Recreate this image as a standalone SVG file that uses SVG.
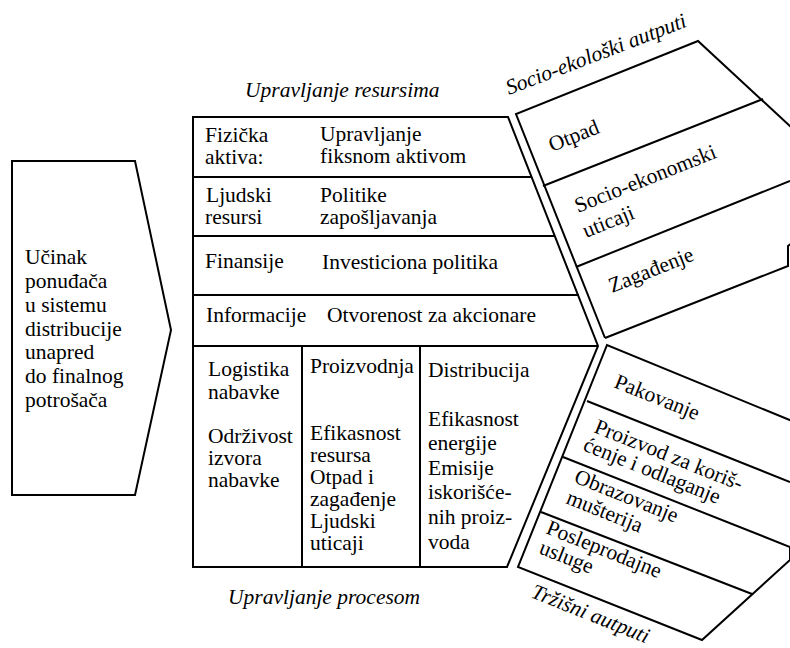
<svg xmlns="http://www.w3.org/2000/svg" width="790" height="648" viewBox="0 0 790 648">
<style>
.s{fill:none;stroke:#000;stroke-width:2;stroke-linejoin:miter}
.l{fill:none;stroke:#000;stroke-width:2}
text{font-family:"Liberation Serif","Times New Roman",serif;font-size:21.5px;fill:#000}
.i{font-style:italic}
</style>
<rect width="790" height="648" fill="#fff"/>
<g id="supplier">
<polygon class="s" points="12,161 135,161 171,330 135,495 12,495"/>
<text x="25" y="264">Učinak</text>
<text x="25" y="288">ponuđača</text>
<text x="25" y="312">u sistemu</text>
<text x="25" y="336">distribucije</text>
<text x="25" y="359">unapred</text>
<text x="25" y="383">do finalnog</text>
<text x="25" y="407">potrošača</text>
</g>
<g id="company">
<polygon class="s" points="193,117 508,117 598,346 507,567 193,567"/>
<line class="l" x1="193" y1="177" x2="532" y2="177"/>
<line class="l" x1="193" y1="236" x2="555" y2="236"/>
<line class="l" x1="193" y1="295" x2="579" y2="295"/>
<line class="l" x1="193" y1="346" x2="598" y2="346"/>
<line class="l" x1="302" y1="346" x2="302" y2="567"/>
<line class="l" x1="420" y1="346" x2="420" y2="567"/>
<text class="i" x="245" y="97">Upravljanje resursima</text>
<text class="i" x="228" y="604">Upravljanje procesom</text>
<text x="205" y="142">Fizička</text>
<text x="205" y="164">aktiva:</text>
<text x="320" y="141">Upravljanje</text>
<text x="320" y="163">fiksnom aktivom</text>
<text x="206" y="202">Ljudski</text>
<text x="205" y="224">resursi</text>
<text x="320" y="202">Politike</text>
<text x="320" y="224">zapošljavanja</text>
<text x="205" y="268">Finansije</text>
<text x="322" y="269">Investiciona politika</text>
<text x="206" y="322">Informacije</text>
<text x="327" y="322">Otvorenost za akcionare</text>
<text x="208" y="376">Logistika</text>
<text x="208" y="399">nabavke</text>
<text x="208" y="443">Održivost</text>
<text x="208" y="465">izvora</text>
<text x="208" y="487">nabavke</text>
<text x="310" y="373">Proizvodnja</text>
<text x="310" y="440">Efikasnost</text>
<text x="310" y="462">resursa</text>
<text x="310" y="484">Otpad i</text>
<text x="310" y="506">zagađenje</text>
<text x="310" y="528">Ljudski</text>
<text x="310" y="550">uticaji</text>
<text x="428" y="377">Distribucija</text>
<text x="428" y="426">Efikasnost</text>
<text x="428" y="450">energije</text>
<text x="428" y="475">Emisije</text>
<text x="428" y="499">iskorišće-</text>
<text x="428" y="524">nih proiz-</text>
<text x="428" y="549">voda</text>
</g>
<g id="socio-ecological">
<polyline class="s" points="605,338 516,114 698,41 792,128"/>
<polyline class="s" points="792,243 788,246 788,266 605,338"/>
<line class="l" x1="543" y1="186" x2="763" y2="99"/>
<line class="l" x1="576" y1="267" x2="790" y2="181"/>
<text class="i" transform="rotate(-21 509 95)" x="509" y="95">Socio-ekološki autputi</text>
<text transform="rotate(-21.7 552 152)" x="552" y="152">Otpad</text>
<text transform="rotate(-21.7 578 213)" x="578" y="213">Socio-ekonomski</text>
<text transform="rotate(-21.7 586 238)" x="586" y="238">uticaji</text>
<text transform="rotate(-21.7 612 293)" x="612" y="293">Zagađenje</text>
</g>
<g id="market">
<polyline class="s" points="792,421 607,345 518,567 702,640 790,560 790,546"/>
<line class="l" x1="587" y1="401" x2="790" y2="482"/>
<line class="l" x1="563" y1="457" x2="790" y2="547"/>
<line class="l" x1="541" y1="512" x2="752" y2="594"/>
<text transform="rotate(21.8 613 387)" x="613" y="387">Pakovanje</text>
<text transform="rotate(21.8 593 432)" x="593" y="432">Proizvod za koriš-</text>
<text transform="rotate(21.8 582 450)" x="582" y="450">ćenje i odlaganje</text>
<text transform="rotate(21.8 573 482)" x="573" y="482">Obrazovanje</text>
<text transform="rotate(21.8 565 503)" x="565" y="503">mušterija</text>
<text transform="rotate(21.8 545 533)" x="545" y="533">Posleprodajne</text>
<text transform="rotate(21.8 538 553)" x="538" y="553">usluge</text>
<text class="i" transform="rotate(21.8 530 597)" x="530" y="597" font-size="20">Tržišni autputi</text>
</g>
</svg>
